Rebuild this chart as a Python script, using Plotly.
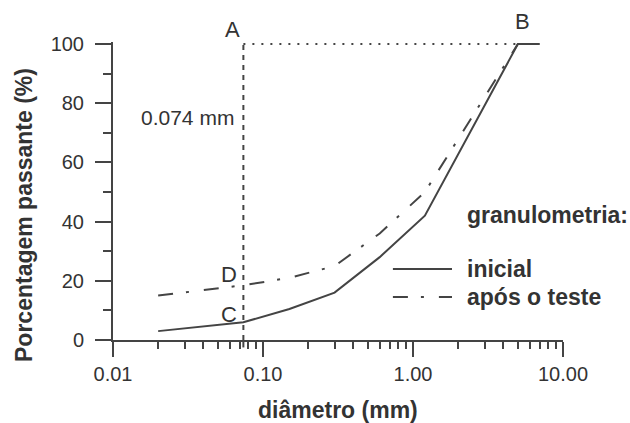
import math
import plotly.graph_objects as go

# ---- data ----
diam_inicial = [0.02, 0.074, 0.15, 0.3, 0.6, 1.2, 5.0, 7.0]
pct_inicial = [3, 6, 10.5, 16, 28, 42, 100, 100]

diam_apos = [0.02, 0.074, 0.15, 0.3, 0.6, 1.2, 5.0]
pct_apos = [15, 18.5, 21, 25, 36, 50, 100]

x_tickvals = [0.01, 0.1, 1, 10]
x_ticktext = ["0.01", "0.10", "1.00", "10.00"]
x_minor = [m * d for d in (0.01, 0.1, 1) for m in range(2, 10)]
y_tickvals = [0, 20, 40, 60, 80, 100]

d_ref = 0.074
b_ref = 5.0
top_pct = 100

INK = "#444444"
TXT = "#333333"
FONT = "Liberation Sans"

fig = go.Figure()

fig.add_trace(go.Scatter(x=diam_inicial, y=pct_inicial, mode="lines",
                         line=dict(color=INK, width=2), showlegend=False,
                         cliponaxis=False))
fig.add_trace(go.Scatter(x=diam_apos, y=pct_apos, mode="lines",
                         line=dict(color=INK, width=2, dash="15px,13px,3px,15px"),
                         showlegend=False, cliponaxis=False))

# reference lines
fig.add_shape(type="line", xref="x", yref="y", x0=d_ref, x1=d_ref, y0=0, y1=top_pct,
              line=dict(color=INK, width=2, dash="5px,5px"))
fig.add_shape(type="line", xref="x", yref="paper", x0=d_ref, x1=d_ref, y0=-0.025, y1=0,
              line=dict(color=INK, width=2))
fig.add_shape(type="line", xref="x", yref="y", x0=d_ref, x1=b_ref, y0=top_pct, y1=top_pct,
              line=dict(color=INK, width=2, dash="2px,7px"))

# legend (manual)
fig.add_shape(type="line", xref="paper", yref="paper", x0=0.622, x1=0.7533, y0=0.238, y1=0.238,
              line=dict(color=INK, width=2))
fig.add_shape(type="line", xref="paper", yref="paper", x0=0.622, x1=0.7533, y0=0.144, y1=0.144,
              line=dict(color=INK, width=2, dash="15px,13px,3px,15px"))

ann = []
def label(text, x, y, xs=0, ys=0, size=22, xanchor="center", xref="x", yref="y", angle=0):
    ann.append(dict(text=text, x=x, y=y, xref=xref, yref=yref, xshift=xs, yshift=ys,
                    xanchor=xanchor, yanchor="middle", showarrow=False, textangle=angle,
                    font=dict(family=FONT, size=size, color=TXT)))

label("A", math.log10(d_ref), top_pct, xs=-11, ys=15)
label("B", math.log10(b_ref), top_pct, xs=5, ys=23)
label("0.074 mm", math.log10(d_ref), 75.3, xs=-7, size=21, xanchor="right")
label("D", math.log10(d_ref), 18.5, xs=-14, ys=11)
label("C", math.log10(d_ref), 6, xs=-14, ys=8)

label("<b>granulometria:</b>", 0.782, 0.419, size=23, xanchor="left", xref="paper", yref="paper")
label("<b>inicial</b>", 0.782, 0.238, size=23, xanchor="left", xref="paper", yref="paper")
label("<b>após o teste</b>", 0.782, 0.144, size=23, xanchor="left", xref="paper", yref="paper")

label("<b>diâmetro (mm)</b>", 0.5, 0, ys=-70, size=23, xref="paper", yref="paper")
label("<b>Porcentagem passante (%)</b>", 0, 0, xs=-89, ys=125, size=23,
      xref="paper", yref="paper", angle=-90)

fig.update_layout(
    width=630, height=423,
    margin=dict(l=113, r=67, t=42, b=83),
    paper_bgcolor="white", plot_bgcolor="white",
    annotations=ann,
    showlegend=False,
    xaxis=dict(type="log", range=[-2, 1], showline=True, linecolor=INK, linewidth=2,
               ticks="outside", ticklen=15, tickwidth=2, tickcolor=INK,
               tickvals=x_tickvals, ticktext=x_ticktext,
               tickfont=dict(family=FONT, size=20, color=TXT),
               showgrid=False, zeroline=False,
               minor=dict(tickvals=x_minor, ticks="outside", ticklen=7, tickwidth=1.5,
                          tickcolor=INK, showgrid=False)),
    yaxis=dict(range=[0, 100.7], showline=True, linecolor=INK, linewidth=2,
               ticks="outside", ticklen=16, tickwidth=2, tickcolor=INK,
               tickvals=y_tickvals, ticklabelstandoff=7,
               tickfont=dict(family=FONT, size=20, color=TXT),
               showgrid=False, zeroline=False,
               minor=dict(dtick=10, ticks="outside", ticklen=8, tickwidth=2,
                          tickcolor=INK, showgrid=False)),
)

fig.write_html("out.html", config={"displayModeBar": False},
               post_script="document.body.style.margin='0';document.body.style.overflow='hidden';")
